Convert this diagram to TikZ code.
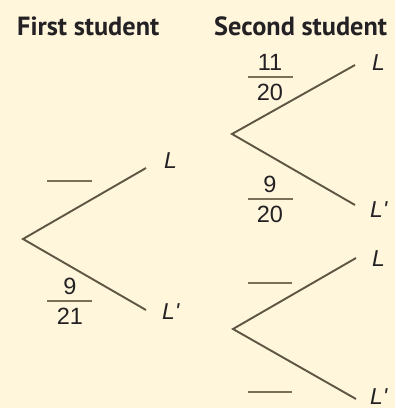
\documentclass[tikz,border=0pt]{standalone}
\usepackage{fontspec}
\setmainfont{Liberation Sans}
\newfontfamily\headfont{PT Sans}
\definecolor{bgc}{RGB}{255,246,220}
\definecolor{linec}{RGB}{92,86,66}
\definecolor{barc}{RGB}{120,112,88}
\definecolor{txtc}{RGB}{35,33,36}
\tikzset{
  branch/.style={draw=linec, line width=1.9pt},
  fbar/.style={draw=barc, line width=2pt},
  header/.style={anchor=base west, inner sep=0pt, text=txtc, font=\headfont\fontsize{26.3}{30}\selectfont\bfseries},
  num/.style={anchor=base, inner sep=0pt, text=txtc, font=\fontsize{23.5}{27}\selectfont},
  lab/.style={anchor=base west, inner sep=0pt, text=txtc, font=\fontsize{23}{27}\selectfont\itshape},
}
\begin{document}
\begin{tikzpicture}[x=1pt,y=-1pt]
\fill[bgc] (0,0) rectangle (395,408);
\useasboundingbox (0,0) rectangle (395,408);
% headers
\node[header] (h1) at (17,35) {First student};
\node[header] (h2) at (214,35) {Second student};
% tree 1
\coordinate (r1) at (23,239);
\coordinate (u1) at (146,168);
\coordinate (d1) at (146,310);
\draw[branch] (u1) -- (r1) -- (d1);
\node[lab] (l1) at (164,168) {L};
\node[lab] (l1p) at (162,319) {L\textquotesingle};
\coordinate (b1a) at (47,181); \coordinate (b1b) at (92,181);
\draw[fbar] (b1a) -- (b1b);
\coordinate (b2a) at (47,301); \coordinate (b2b) at (92,301);
\draw[fbar] (b2a) -- (b2b);
\node[num] (n9a) at (70,294) {9};
\node[num] (n21) at (70,324) {21};
% tree 2
\coordinate (r2) at (232,134);
\coordinate (u2) at (355,65);
\coordinate (d2) at (355,205);
\draw[branch] (u2) -- (r2) -- (d2);
\node[lab] (l2) at (372,70) {L};
\node[lab] (l2p) at (370,217) {L\textquotesingle};
\coordinate (b3a) at (248,77); \coordinate (b3b) at (293,77);
\draw[fbar] (b3a) -- (b3b);
\node[num] (n11) at (270,70) {11};
\node[num] (n20a) at (270,100) {20};
\coordinate (b4a) at (248,199); \coordinate (b4b) at (293,199);
\draw[fbar] (b4a) -- (b4b);
\node[num] (n9b) at (270,192) {9};
\node[num] (n20b) at (270,222) {20};
% tree 3
\coordinate (r3) at (233,329);
\coordinate (u3) at (356,258);
\coordinate (d3) at (356,399);
\draw[branch] (u3) -- (r3) -- (d3);
\node[lab] (l3) at (372,266) {L};
\node[lab] (l3p) at (370,404) {L\textquotesingle};
\coordinate (b5a) at (248,283); \coordinate (b5b) at (292,283);
\draw[fbar] (b5a) -- (b5b);
\coordinate (b6a) at (248,392); \coordinate (b6b) at (292,392);
\draw[fbar] (b6a) -- (b6b);
\end{tikzpicture}
\end{document}
